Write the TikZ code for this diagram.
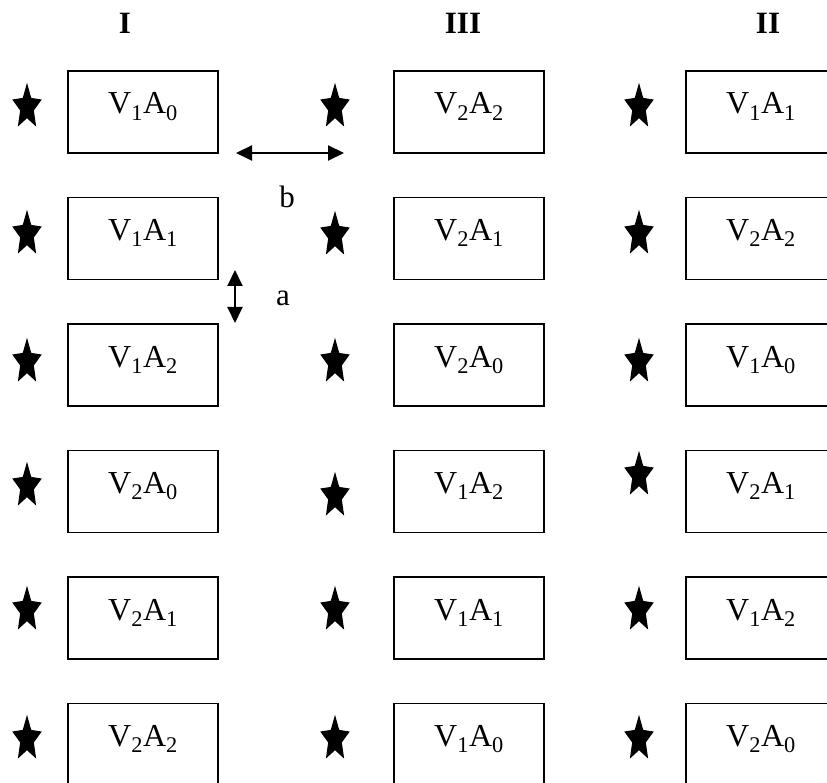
\documentclass[tikz,border=0pt]{standalone}
\usepackage{fontspec}
\setmainfont{Liberation Serif}
\usetikzlibrary{arrows.meta}

\newcommand{\trt}[2]{V\textsubscript{#1}A\textsubscript{#2}}

\tikzset{
  plot/.style={draw, line width=1.4pt, minimum width=150pt, inner sep=0pt,
    text height=43pt, text depth=39pt, font=\fontsize{32}{38}\selectfont},
  hdr/.style={font=\fontsize{31}{36}\selectfont\bfseries},
  lbl/.style={font=\fontsize{31}{36}\selectfont},
  dim/.style={line width=2pt, {Triangle[length=16pt,width=15pt]}-{Triangle[length=16pt,width=15pt]}},
  pics/plantmark/.style={code={
    \fill[yscale=1.56] (270:15.5) \foreach \k in {1,...,9}{
      -- ({270+36*\k}:{ifthenelse(mod(\k,2)==0,15.5,7.2)})} -- cycle;
  }},
}

\begin{document}
\begin{tikzpicture}[x=1pt, y=-1pt]
  \useasboundingbox (0,0) rectangle (827,783);
  \clip (0,0) rectangle (827,783);

  % blocks
  \node[hdr] (hI) at (125,23) {I};
  \node[hdr] (hIII) at (463,23) {III};
  \node[hdr] (hII) at (768,23) {II};

  % column I
  \foreach \r/\v/\a/\s in {1/1/0/107, 2/1/1/234, 3/1/2/362, 4/2/0/486, 5/2/1/610, 6/2/2/739}{
    \node[plot] (I-\r) at (143,{112+126.5*(\r-1)}) {\trt{\v}{\a}};
    \pic (sI-\r) at (27,\s) {plantmark};
  }
  % column III
  \foreach \r/\v/\a/\s in {1/2/2/107, 2/2/1/235, 3/2/0/362, 4/1/2/496, 5/1/1/610, 6/1/0/739}{
    \node[plot] (III-\r) at (469,{112+126.5*(\r-1)}) {\trt{\v}{\a}};
    \pic (sIII-\r) at (335,\s) {plantmark};
  }
  % column II
  \foreach \r/\v/\a/\s in {1/1/1/107, 2/2/2/234, 3/1/0/362, 4/2/1/475, 5/1/2/610, 6/2/0/739}{
    \node[plot] (II-\r) at (761,{112+126.5*(\r-1)}) {\trt{\v}{\a}};
    \pic (sII-\r) at (639,\s) {plantmark};
  }

  % spacing
  \coordinate (b-left) at (236,153);
  \coordinate (b-right) at (344,153);
  \draw[dim] (b-left) -- (b-right);
  \node[lbl] (lab-b) at (287,197) {b};
  \coordinate (a-top) at (235,270);
  \coordinate (a-bot) at (235,323);
  \draw[dim] (a-top) -- (a-bot);
  \node[lbl] (lab-a) at (283,298) {a};
\end{tikzpicture}
\end{document}
